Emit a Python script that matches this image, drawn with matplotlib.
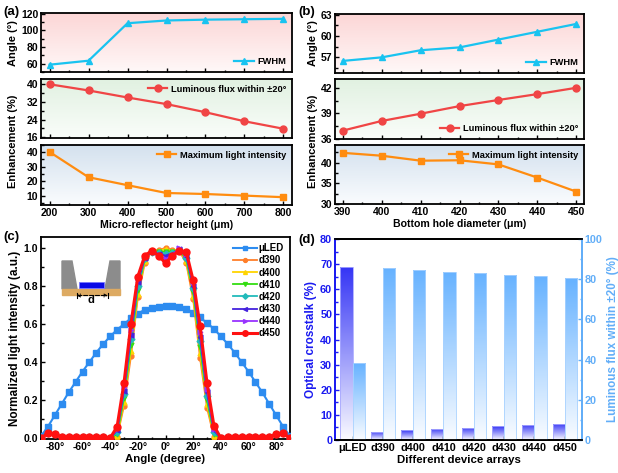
import matplotlib
matplotlib.use('Agg')
import matplotlib.pyplot as plt
import numpy as np
from matplotlib.ticker import AutoMinorLocator, MultipleLocator
from matplotlib.colors import LinearSegmentedColormap
from matplotlib.patches import Rectangle, Polygon

plt.rcParams['font.family'] = ['Liberation Sans', 'DejaVu Sans']
plt.rcParams['font.weight'] = 'bold'
plt.rcParams['axes.labelweight'] = 'bold'
plt.rcParams['font.size'] = 7
plt.rcParams['xtick.direction'] = 'in'
plt.rcParams['ytick.direction'] = 'in'
plt.rcParams['xtick.major.size'] = 3
plt.rcParams['ytick.major.size'] = 3
plt.rcParams['xtick.minor.size'] = 1.8
plt.rcParams['ytick.minor.size'] = 1.8
plt.rcParams['axes.linewidth'] = 1.3
plt.rcParams['xtick.major.pad'] = 2.5
plt.rcParams['ytick.major.pad'] = 2

# ---- data (a) ----
height = [200, 300, 400, 500, 600, 700, 800]
fwhm_a = [58.8, 63.6, 108.7, 112.0, 113.0, 113.5, 114.0]
flux_a = [40.0, 37.2, 34.0, 31.0, 27.3, 23.2, 19.8]
maxint_a = [40.2, 22.7, 17.2, 11.8, 11.1, 10.0, 8.9]

# ---- data (b) ----
diameter = [390, 400, 410, 420, 430, 440, 450]
fwhm_b = [56.5, 57.0, 58.0, 58.4, 59.5, 60.6, 61.7]
flux_b = [36.95, 38.1, 38.96, 39.87, 40.6, 41.3, 42.05]
maxint_b = [42.4, 41.7, 40.5, 40.6, 39.6, 36.4, 33.0]

# ---- data (c) ----
angles = list(range(-90, 95, 5))
uled = [0.01, 0.06, 0.12, 0.18, 0.24, 0.295, 0.35, 0.40, 0.45, 0.495,
        0.535, 0.57, 0.60, 0.63, 0.655, 0.675, 0.685, 0.69, 0.695,
        0.695, 0.69, 0.68, 0.66, 0.635, 0.605, 0.575, 0.535,
        0.495, 0.45, 0.40, 0.35, 0.295, 0.24, 0.18, 0.12, 0.06, 0.01]
tail_left = [0.0, 0.025, 0.02, 0.005, 0.003, 0.003, 0.003, 0.003, 0.003, 0.003]
tail_right = [0.003, 0.003, 0.003, 0.003, 0.003, 0.003, 0.005, 0.02, 0.025, 0.0]
core = {
    'd390': [0.0, 0.005, 0.17, 0.43, 0.74, 0.92, 0.985, 0.99, 1.0, 0.99, 0.985, 0.92, 0.73, 0.42, 0.16, 0.005, 0.0],
    'd400': [0.0, 0.01, 0.19, 0.46, 0.76, 0.93, 0.99, 0.985, 0.995, 0.985, 0.99, 0.93, 0.75, 0.45, 0.18, 0.01, 0.0],
    'd410': [0.0, 0.02, 0.21, 0.49, 0.78, 0.94, 0.985, 0.98, 0.98, 0.98, 0.99, 0.94, 0.77, 0.48, 0.20, 0.02, 0.0],
    'd420': [0.0, 0.03, 0.23, 0.52, 0.80, 0.945, 0.98, 0.975, 0.97, 0.975, 0.99, 0.95, 0.79, 0.51, 0.22, 0.03, 0.0],
    'd430': [0.0, 0.04, 0.25, 0.54, 0.82, 0.95, 0.98, 0.97, 0.96, 0.97, 0.995, 0.96, 0.80, 0.53, 0.24, 0.04, 0.0],
    'd440': [0.0, 0.05, 0.27, 0.57, 0.84, 0.955, 0.985, 0.965, 0.94, 0.965, 1.0, 0.97, 0.82, 0.56, 0.26, 0.05, 0.0],
    'd450': [0.0, 0.06, 0.29, 0.60, 0.85, 0.96, 0.985, 0.96, 0.92, 0.96, 0.985, 0.98, 0.83, 0.59, 0.29, 0.065, 0.0],
}
d_colors = ['#FF7F2A', '#FFD400', '#33DD11', '#22BBBB', '#4422DD', '#9933FF', '#FF1111']
d_markers = ['o', '^', 'v', 'D', '<', '>', 'o']

# ---- data (d) ----
devices = ['μLED', 'd390', 'd400', 'd410', 'd420', 'd430', 'd440', 'd450']
crosstalk = [68.7, 3.3, 3.85, 4.4, 4.9, 5.4, 6.0, 6.4]
flux_d = [38.2, 85.5, 84.7, 83.6, 82.9, 82.1, 81.4, 80.4]

c_fwhm = '#19C3F0'
c_flux = '#F04545'
c_max = '#FF8C10'

W, H = 618, 473
fig = plt.figure(figsize=(W / 100, H / 100), dpi=100)


def box(x0, y0, x1, y1):
    return [x0 / W, 1 - y1 / H, (x1 - x0) / W, (y1 - y0) / H]


def bg_gradient(ax, top, bottom):
    cmap = LinearSegmentedColormap.from_list('g', [bottom, top])
    grad = np.linspace(0, 1, 256).reshape(-1, 1)
    ax.imshow(grad, cmap=cmap, extent=[0, 1, 0, 1], transform=ax.transAxes,
              aspect='auto', origin='lower', zorder=0)


def style(ax):
    ax.xaxis.set_minor_locator(AutoMinorLocator(2))
    ax.yaxis.set_minor_locator(AutoMinorLocator(2))
    ax.tick_params(which='both', top=False, right=False, width=1)
    ax.tick_params(labelsize=7.5)
    for t in ax.get_xticklabels() + ax.get_yticklabels():
        t.set_fontweight('bold')


def stack(x, data, rows, xlim, xticks, xlabel, x0, x1, legs):
    axes = []
    for i, (y0, y1) in enumerate(rows):
        ax = fig.add_axes(box(x0, y0, x1, y1))
        vals, col, mk, lab, ylim, yt, grad = data[i]
        bg_gradient(ax, grad[0], grad[1])
        ax.plot(x, vals, color=col, marker=mk, markersize=5, lw=1.6, label=lab, zorder=3)
        ax.set_xlim(*xlim)
        ax.set_ylim(*ylim)
        ax.set_xticks(xticks)
        ax.set_yticks(yt)
        style(ax)
        if i < 2:
            ax.tick_params(labelbottom=False)
        ax.legend(loc=legs[i], frameon=False, fontsize=6.7, handlelength=2.1,
                  borderaxespad=0.2, handletextpad=0.4)
        axes.append(ax)
    axes[-1].set_xlabel(xlabel, fontsize=7.6, labelpad=1)
    return axes


grads = [('#FCD6D6', '#FFF8F8'), ('#E1F1E1', '#FAFDFA'), ('#D4E1EE', '#FAFCFE')]

# (a)
rows_a = [(13, 72), (79, 138), (145, 205)]
data_a = [
    (fwhm_a, c_fwhm, '^', 'FWHM', (50, 121), [60, 80, 100, 120], grads[0]),
    (flux_a, c_flux, 'o', 'Luminous flux within ±20°', (15.6, 42.4), [16, 24, 32, 40], grads[1]),
    (maxint_a, c_max, 's', 'Maximum light intensity', (3.5, 45), [10, 20, 30, 40], grads[2]),
]
axa = stack(height, data_a, rows_a, (178, 822), height, 'Micro-reflector height (μm)',
            41, 292, ['lower right', 'upper right', 'upper right'])
fig.text(13 / W, 1 - 43 / H, 'Angle (°)', rotation=90, ha='center', va='center', fontsize=8)
fig.text(13 / W, 1 - 141 / H, 'Enhancement (%)', rotation=90, ha='center', va='center', fontsize=8)

# (b)
rows_b = [(14, 73), (79, 139), (145, 204)]
data_b = [
    (fwhm_b, c_fwhm, '^', 'FWHM', (54.8, 63.1), [57, 60, 63], grads[0]),
    (flux_b, c_flux, 'o', 'Luminous flux within ±20°', (35.95, 43.1), [36, 39, 42], grads[1]),
    (maxint_b, c_max, 's', 'Maximum light intensity', (30, 44.3), [30, 35, 40], grads[2]),
]
axb = stack(diameter, data_b, rows_b, (388, 452), diameter, 'Bottom hole diameter (μm)',
            335, 584, ['lower right', 'lower right', 'upper right'])
fig.text(313 / W, 1 - 43 / H, 'Angle (°)', rotation=90, ha='center', va='center', fontsize=8)
fig.text(313 / W, 1 - 141 / H, 'Enhancement (%)', rotation=90, ha='center', va='center', fontsize=8)

# (c)
axc = fig.add_axes(box(41, 237, 290, 439))
axc.plot(angles, uled, color='#2D8CF0', marker='s', markersize=4, lw=1.5, label='μLED', zorder=3)
for i, (name, vals) in enumerate(core.items()):
    series = tail_left + vals + tail_right
    red = name == 'd450'
    axc.plot(angles, series, color=d_colors[i], marker=d_markers[i], markersize=5 if red else 3.5,
             lw=2.2 if red else 1.3, label=name, zorder=4 + i)
axc.set_xlim(-90, 90)
axc.set_ylim(-0.005, 1.058)
axc.set_xticks(range(-80, 81, 20))
axc.set_xticklabels(['%d°' % v for v in range(-80, 81, 20)])
axc.yaxis.set_major_locator(MultipleLocator(0.2))
axc.yaxis.set_major_formatter(plt.FormatStrFormatter('%.1f'))
style(axc)
axc.set_xlabel('Angle (degree)', fontsize=8.2, labelpad=1)
axc.set_ylabel('Normalized light intensity (a.u.)', fontsize=8.5, labelpad=2)
axc.legend(loc='upper right', frameon=False, fontsize=7, handlelength=2.5, markerscale=0.8,
           borderaxespad=0.25, labelspacing=0.22, handletextpad=0.15)

# inset schematic
axi = fig.add_axes(box(58, 258, 124, 306))
axi.set_xlim(58, 124)
axi.set_ylim(306, 258)
axi.axis('off')
axi.add_patch(Polygon([(62, 261), (72, 261), (77, 289), (62, 289)], color='#8C8C8C'))
axi.add_patch(Polygon([(120, 261), (110, 261), (105, 289), (120, 289)], color='#8C8C8C'))
axi.add_patch(Rectangle((62, 288.5), 58, 6, color='#DDAA62'))
axi.add_patch(Rectangle((78.5, 282), 25.5, 5.5, facecolor='#0A0AE6', edgecolor='#7777FF', lw=0.6))
axi.annotate('', xy=(108, 295.5), xytext=(76.5, 295.5),
             arrowprops=dict(arrowstyle='<->', linestyle='--', lw=0.8, color='black',
                             shrinkA=0, shrinkB=0, mutation_scale=5))
axi.plot([76.5, 76.5], [293, 298], color='black', lw=0.8)
axi.plot([108, 108], [293, 298], color='black', lw=0.8)
axi.text(91, 299.5, 'd', ha='center', va='center', fontsize=8, fontweight='bold')

# (d)
c_left = '#1A1AF0'
c_right = '#62AEF8'
axd = fig.add_axes(box(335, 239, 582, 440))
axd2 = axd.twinx()
pos = np.arange(len(devices))


def grad_bars(ax, bars, top, bottom):
    cmap = LinearSegmentedColormap.from_list('b', [bottom, top])
    grad = np.linspace(0, 1, 256).reshape(-1, 1)
    for bar in bars:
        x, y = bar.get_x(), bar.get_y()
        w, h = bar.get_width(), bar.get_height()
        im = ax.imshow(grad, cmap=cmap, extent=[x, x + w, y, y + h], origin='lower',
                       aspect='auto', zorder=1)
        im.set_clip_path(bar)


b1 = axd.bar(pos - 0.2, crosstalk, width=0.4, facecolor='none', edgecolor='#A8A8FF', lw=0.6, zorder=2)
b2 = axd2.bar(pos + 0.2, flux_d, width=0.4, facecolor='none', edgecolor='#A8D2FF', lw=0.6, zorder=2)
grad_bars(axd, b1, '#3535F5', '#FBFBFF')
grad_bars(axd2, b2, '#66B2FF', '#FAFCFF')
axd.set_xlim(-0.58, 7.57)
axd.set_ylim(0, 80)
axd2.set_ylim(0, 100)
axd.set_xticks(pos)
axd.set_xticklabels(devices, fontsize=7.8)
axd.yaxis.set_major_locator(MultipleLocator(10))
axd.yaxis.set_minor_locator(AutoMinorLocator(2))
axd2.yaxis.set_major_locator(MultipleLocator(20))
axd2.yaxis.set_minor_locator(AutoMinorLocator(2))
axd.tick_params(axis='y', which='both', colors=c_left, labelsize=7.8, width=1)
axd.tick_params(axis='x', which='both', top=False, width=1)
axd2.tick_params(axis='y', which='both', colors=c_right, labelsize=7.8, width=1)
for t in axd.get_xticklabels() + axd.get_yticklabels() + axd2.get_yticklabels():
    t.set_fontweight('bold')
axd2.spines['left'].set_color(c_left)
axd.spines['left'].set_color(c_left)
axd2.spines['right'].set_color(c_right)
axd.spines['right'].set_color(c_right)
axd.set_xlabel('Different device arrays', fontsize=8.2, labelpad=1)
axd.set_ylabel('Optical crosstalk (%)', color=c_left, fontsize=8.5, labelpad=2)
axd2.set_ylabel('Luminous flux within ±20° (%)', color=c_right, fontsize=8.4, labelpad=3)

# panel labels
for lab, x, y in [('(a)', 3, 12), ('(b)', 298, 12), ('(c)', 3, 237), ('(d)', 298, 240)]:
    fig.text(x / W, 1 - y / H, lab, ha='left', va='center', fontsize=9.5, fontweight='bold')

fig.savefig('out.png', dpi=100)
